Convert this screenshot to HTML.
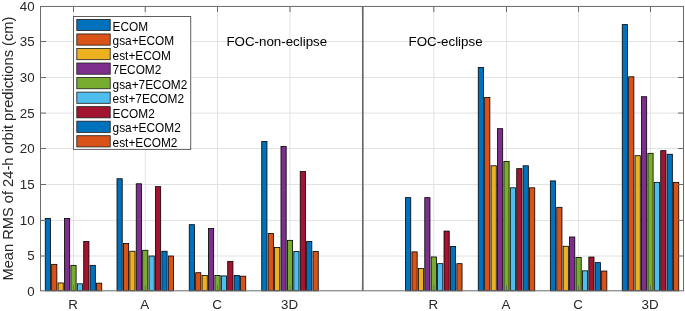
<!DOCTYPE html><html><head><meta charset="utf-8"><title>chart</title>
<style>html,body{margin:0;padding:0;background:#fff}svg{display:block}text{font-family:"Liberation Sans",Arial,Helvetica,sans-serif;fill:#262626}</style></head><body>
<svg width="685" height="311" viewBox="0 0 685 311">
<rect x="0" y="0" width="685" height="311" fill="#fff"/>
<path d="M73.50 6.45V290.8 M145.25 6.45V290.8 M217.50 6.45V290.8 M290.00 6.45V290.8 M362.40 6.45V290.8 M433.80 6.45V290.8 M506.50 6.45V290.8 M578.60 6.45V290.8 M650.50 6.45V290.8 M40.5 256.00H683.5 M40.5 220.40H683.5 M40.5 184.50H683.5 M40.5 148.50H683.5 M40.5 113.10H683.5 M40.5 77.50H683.5 M40.5 41.50H683.5" stroke="#e2e2e2" stroke-width="1" fill="none"/>
<rect x="45.25" y="218.46" width="5.21" height="72.34" fill="#0072BD" stroke="#000" stroke-width="0.8"/>
<rect x="51.66" y="264.35" width="5.21" height="26.45" fill="#D95319" stroke="#000" stroke-width="0.8"/>
<rect x="58.07" y="282.94" width="5.21" height="7.86" fill="#EDB120" stroke="#000" stroke-width="0.8"/>
<rect x="64.48" y="218.46" width="5.21" height="72.34" fill="#7E2F8E" stroke="#000" stroke-width="0.8"/>
<rect x="70.90" y="265.33" width="5.21" height="25.47" fill="#77AC30" stroke="#000" stroke-width="0.8"/>
<rect x="77.31" y="283.84" width="5.21" height="6.96" fill="#4DBEEE" stroke="#000" stroke-width="0.8"/>
<rect x="83.72" y="241.48" width="5.21" height="49.32" fill="#A2142F" stroke="#000" stroke-width="0.8"/>
<rect x="90.13" y="265.33" width="5.21" height="25.47" fill="#0072BD" stroke="#000" stroke-width="0.8"/>
<rect x="96.54" y="283.14" width="5.21" height="7.66" fill="#D95319" stroke="#000" stroke-width="0.8"/>
<rect x="117.00" y="178.74" width="5.21" height="112.06" fill="#0072BD" stroke="#000" stroke-width="0.8"/>
<rect x="123.41" y="243.40" width="5.21" height="47.40" fill="#D95319" stroke="#000" stroke-width="0.8"/>
<rect x="129.82" y="251.23" width="5.21" height="39.57" fill="#EDB120" stroke="#000" stroke-width="0.8"/>
<rect x="136.23" y="183.78" width="5.21" height="107.02" fill="#7E2F8E" stroke="#000" stroke-width="0.8"/>
<rect x="142.65" y="250.30" width="5.21" height="40.50" fill="#77AC30" stroke="#000" stroke-width="0.8"/>
<rect x="149.06" y="256.00" width="5.21" height="34.80" fill="#4DBEEE" stroke="#000" stroke-width="0.8"/>
<rect x="155.47" y="186.65" width="5.21" height="104.15" fill="#A2142F" stroke="#000" stroke-width="0.8"/>
<rect x="161.88" y="251.23" width="5.21" height="39.57" fill="#0072BD" stroke="#000" stroke-width="0.8"/>
<rect x="168.29" y="256.00" width="5.21" height="34.80" fill="#D95319" stroke="#000" stroke-width="0.8"/>
<rect x="189.25" y="224.67" width="5.21" height="66.13" fill="#0072BD" stroke="#000" stroke-width="0.8"/>
<rect x="195.66" y="272.70" width="5.21" height="18.10" fill="#D95319" stroke="#000" stroke-width="0.8"/>
<rect x="202.07" y="275.49" width="5.21" height="15.31" fill="#EDB120" stroke="#000" stroke-width="0.8"/>
<rect x="208.48" y="228.59" width="5.21" height="62.21" fill="#7E2F8E" stroke="#000" stroke-width="0.8"/>
<rect x="214.90" y="275.49" width="5.21" height="15.31" fill="#77AC30" stroke="#000" stroke-width="0.8"/>
<rect x="221.31" y="275.91" width="5.21" height="14.89" fill="#4DBEEE" stroke="#000" stroke-width="0.8"/>
<rect x="227.72" y="261.36" width="5.21" height="29.44" fill="#A2142F" stroke="#000" stroke-width="0.8"/>
<rect x="234.13" y="275.49" width="5.21" height="15.31" fill="#0072BD" stroke="#000" stroke-width="0.8"/>
<rect x="240.54" y="276.18" width="5.21" height="14.62" fill="#D95319" stroke="#000" stroke-width="0.8"/>
<rect x="261.75" y="141.42" width="5.21" height="149.38" fill="#0072BD" stroke="#000" stroke-width="0.8"/>
<rect x="268.16" y="233.43" width="5.21" height="57.37" fill="#D95319" stroke="#000" stroke-width="0.8"/>
<rect x="274.57" y="247.46" width="5.21" height="43.34" fill="#EDB120" stroke="#000" stroke-width="0.8"/>
<rect x="280.98" y="146.38" width="5.21" height="144.42" fill="#7E2F8E" stroke="#000" stroke-width="0.8"/>
<rect x="287.40" y="240.34" width="5.21" height="50.46" fill="#77AC30" stroke="#000" stroke-width="0.8"/>
<rect x="293.81" y="251.44" width="5.21" height="39.36" fill="#4DBEEE" stroke="#000" stroke-width="0.8"/>
<rect x="300.22" y="171.54" width="5.21" height="119.26" fill="#A2142F" stroke="#000" stroke-width="0.8"/>
<rect x="306.63" y="241.48" width="5.21" height="49.32" fill="#0072BD" stroke="#000" stroke-width="0.8"/>
<rect x="313.04" y="251.44" width="5.21" height="39.36" fill="#D95319" stroke="#000" stroke-width="0.8"/>
<rect x="405.55" y="197.64" width="5.21" height="93.16" fill="#0072BD" stroke="#000" stroke-width="0.8"/>
<rect x="411.96" y="251.87" width="5.21" height="38.93" fill="#D95319" stroke="#000" stroke-width="0.8"/>
<rect x="418.37" y="268.53" width="5.21" height="22.27" fill="#EDB120" stroke="#000" stroke-width="0.8"/>
<rect x="424.78" y="197.64" width="5.21" height="93.16" fill="#7E2F8E" stroke="#000" stroke-width="0.8"/>
<rect x="431.20" y="256.97" width="5.21" height="33.83" fill="#77AC30" stroke="#000" stroke-width="0.8"/>
<rect x="437.61" y="263.66" width="5.21" height="27.14" fill="#4DBEEE" stroke="#000" stroke-width="0.8"/>
<rect x="444.02" y="231.08" width="5.21" height="59.72" fill="#A2142F" stroke="#000" stroke-width="0.8"/>
<rect x="450.43" y="246.46" width="5.21" height="44.34" fill="#0072BD" stroke="#000" stroke-width="0.8"/>
<rect x="456.84" y="263.66" width="5.21" height="27.14" fill="#D95319" stroke="#000" stroke-width="0.8"/>
<rect x="478.25" y="67.42" width="5.21" height="223.38" fill="#0072BD" stroke="#000" stroke-width="0.8"/>
<rect x="484.66" y="97.44" width="5.21" height="193.36" fill="#D95319" stroke="#000" stroke-width="0.8"/>
<rect x="491.07" y="165.78" width="5.21" height="125.02" fill="#EDB120" stroke="#000" stroke-width="0.8"/>
<rect x="497.48" y="128.68" width="5.21" height="162.12" fill="#7E2F8E" stroke="#000" stroke-width="0.8"/>
<rect x="503.90" y="161.46" width="5.21" height="129.34" fill="#77AC30" stroke="#000" stroke-width="0.8"/>
<rect x="510.31" y="187.80" width="5.21" height="103.00" fill="#4DBEEE" stroke="#000" stroke-width="0.8"/>
<rect x="516.72" y="168.66" width="5.21" height="122.14" fill="#A2142F" stroke="#000" stroke-width="0.8"/>
<rect x="523.13" y="165.78" width="5.21" height="125.02" fill="#0072BD" stroke="#000" stroke-width="0.8"/>
<rect x="529.54" y="187.80" width="5.21" height="103.00" fill="#D95319" stroke="#000" stroke-width="0.8"/>
<rect x="550.35" y="180.90" width="5.21" height="109.90" fill="#0072BD" stroke="#000" stroke-width="0.8"/>
<rect x="556.76" y="207.33" width="5.21" height="83.47" fill="#D95319" stroke="#000" stroke-width="0.8"/>
<rect x="563.17" y="246.25" width="5.21" height="44.55" fill="#EDB120" stroke="#000" stroke-width="0.8"/>
<rect x="569.58" y="236.99" width="5.21" height="53.81" fill="#7E2F8E" stroke="#000" stroke-width="0.8"/>
<rect x="576.00" y="257.53" width="5.21" height="33.27" fill="#77AC30" stroke="#000" stroke-width="0.8"/>
<rect x="582.41" y="270.82" width="5.21" height="19.98" fill="#4DBEEE" stroke="#000" stroke-width="0.8"/>
<rect x="588.82" y="257.04" width="5.21" height="33.76" fill="#A2142F" stroke="#000" stroke-width="0.8"/>
<rect x="595.23" y="262.61" width="5.21" height="28.19" fill="#0072BD" stroke="#000" stroke-width="0.8"/>
<rect x="601.64" y="271.03" width="5.21" height="19.77" fill="#D95319" stroke="#000" stroke-width="0.8"/>
<rect x="622.25" y="24.61" width="5.21" height="266.19" fill="#0072BD" stroke="#000" stroke-width="0.8"/>
<rect x="628.66" y="76.78" width="5.21" height="214.02" fill="#D95319" stroke="#000" stroke-width="0.8"/>
<rect x="635.07" y="155.70" width="5.21" height="135.10" fill="#EDB120" stroke="#000" stroke-width="0.8"/>
<rect x="641.48" y="96.72" width="5.21" height="194.08" fill="#7E2F8E" stroke="#000" stroke-width="0.8"/>
<rect x="647.90" y="153.32" width="5.21" height="137.48" fill="#77AC30" stroke="#000" stroke-width="0.8"/>
<rect x="654.31" y="182.34" width="5.21" height="108.46" fill="#4DBEEE" stroke="#000" stroke-width="0.8"/>
<rect x="660.72" y="150.66" width="5.21" height="140.14" fill="#A2142F" stroke="#000" stroke-width="0.8"/>
<rect x="667.13" y="154.26" width="5.21" height="136.54" fill="#0072BD" stroke="#000" stroke-width="0.8"/>
<rect x="673.54" y="182.34" width="5.21" height="108.46" fill="#D95319" stroke="#000" stroke-width="0.8"/>
<path d="M362.85 6.45V290.8" stroke="#444" stroke-width="1.3" fill="none"/>
<rect x="40.5" y="6.45" width="643.0" height="284.35" fill="none" stroke="#6a6a6a" stroke-width="1"/>
<path d="M73.50 290.8v-5.5M73.50 6.45v5.5 M145.25 290.8v-5.5M145.25 6.45v5.5 M217.50 290.8v-5.5M217.50 6.45v5.5 M290.00 290.8v-5.5M290.00 6.45v5.5 M362.40 290.8v-5.5M362.40 6.45v5.5 M433.80 290.8v-5.5M433.80 6.45v5.5 M506.50 290.8v-5.5M506.50 6.45v5.5 M578.60 290.8v-5.5M578.60 6.45v5.5 M650.50 290.8v-5.5M650.50 6.45v5.5 M40.5 256.00h5.5M683.5 256.00h-5.5 M40.5 220.40h5.5M683.5 220.40h-5.5 M40.5 184.50h5.5M683.5 184.50h-5.5 M40.5 148.50h5.5M683.5 148.50h-5.5 M40.5 113.10h5.5M683.5 113.10h-5.5 M40.5 77.50h5.5M683.5 77.50h-5.5 M40.5 41.50h5.5M683.5 41.50h-5.5" stroke="#6a6a6a" stroke-width="1" fill="none"/>
<text x="34.6" y="296.30" font-size="13.33" text-anchor="end">0</text>
<text x="34.6" y="260.00" font-size="13.33" text-anchor="end">5</text>
<text x="34.6" y="224.90" font-size="13.33" text-anchor="end">10</text>
<text x="34.6" y="189.00" font-size="13.33" text-anchor="end">15</text>
<text x="34.6" y="153.00" font-size="13.33" text-anchor="end">20</text>
<text x="34.6" y="117.60" font-size="13.33" text-anchor="end">25</text>
<text x="34.6" y="82.00" font-size="13.33" text-anchor="end">30</text>
<text x="34.6" y="46.00" font-size="13.33" text-anchor="end">35</text>
<text x="34.6" y="10.95" font-size="13.33" text-anchor="end">40</text>
<text x="73.00" y="308.8" font-size="13.33" text-anchor="middle">R</text>
<text x="144.75" y="308.8" font-size="13.33" text-anchor="middle">A</text>
<text x="217.00" y="308.8" font-size="13.33" text-anchor="middle">C</text>
<text x="289.50" y="308.8" font-size="13.33" text-anchor="middle">3D</text>
<text x="433.30" y="308.8" font-size="13.33" text-anchor="middle">R</text>
<text x="506.00" y="308.8" font-size="13.33" text-anchor="middle">A</text>
<text x="578.10" y="308.8" font-size="13.33" text-anchor="middle">C</text>
<text x="650.00" y="308.8" font-size="13.33" text-anchor="middle">3D</text>
<text transform="translate(13.2 148.6) rotate(-90)" font-size="14.67" text-anchor="middle">Mean RMS of 24-h orbit predictions (cm)</text>
<text x="226.4" y="45.5" font-size="13.33" style="fill:#000">FOC-non-eclipse</text>
<text x="408.5" y="45.5" font-size="13.33" style="fill:#000">FOC-eclipse</text>
<rect x="73.5" y="16.5" width="117.2" height="132.9" fill="#fff" stroke="#5e5e5e" stroke-width="1"/>
<rect x="76.8" y="19.40" width="33.4" height="11.2" fill="#0072BD" stroke="#1c1c1c" stroke-width="0.8"/>
<text x="112.6" y="30.50" font-size="11.85" style="fill:#000">ECOM</text>
<rect x="76.8" y="33.94" width="33.4" height="11.2" fill="#D95319" stroke="#1c1c1c" stroke-width="0.8"/>
<text x="112.6" y="45.04" font-size="11.85" style="fill:#000">gsa+ECOM</text>
<rect x="76.8" y="48.48" width="33.4" height="11.2" fill="#EDB120" stroke="#1c1c1c" stroke-width="0.8"/>
<text x="112.6" y="59.58" font-size="11.85" style="fill:#000">est+ECOM</text>
<rect x="76.8" y="63.02" width="33.4" height="11.2" fill="#7E2F8E" stroke="#1c1c1c" stroke-width="0.8"/>
<text x="112.6" y="74.12" font-size="11.85" style="fill:#000">7ECOM2</text>
<rect x="76.8" y="77.56" width="33.4" height="11.2" fill="#77AC30" stroke="#1c1c1c" stroke-width="0.8"/>
<text x="112.6" y="88.66" font-size="11.85" style="fill:#000">gsa+7ECOM2</text>
<rect x="76.8" y="92.10" width="33.4" height="11.2" fill="#4DBEEE" stroke="#1c1c1c" stroke-width="0.8"/>
<text x="112.6" y="103.20" font-size="11.85" style="fill:#000">est+7ECOM2</text>
<rect x="76.8" y="106.64" width="33.4" height="11.2" fill="#A2142F" stroke="#1c1c1c" stroke-width="0.8"/>
<text x="112.6" y="117.74" font-size="11.85" style="fill:#000">ECOM2</text>
<rect x="76.8" y="121.18" width="33.4" height="11.2" fill="#0072BD" stroke="#1c1c1c" stroke-width="0.8"/>
<text x="112.6" y="132.28" font-size="11.85" style="fill:#000">gsa+ECOM2</text>
<rect x="76.8" y="135.72" width="33.4" height="11.2" fill="#D95319" stroke="#1c1c1c" stroke-width="0.8"/>
<text x="112.6" y="146.82" font-size="11.85" style="fill:#000">est+ECOM2</text>
</svg></body></html>
